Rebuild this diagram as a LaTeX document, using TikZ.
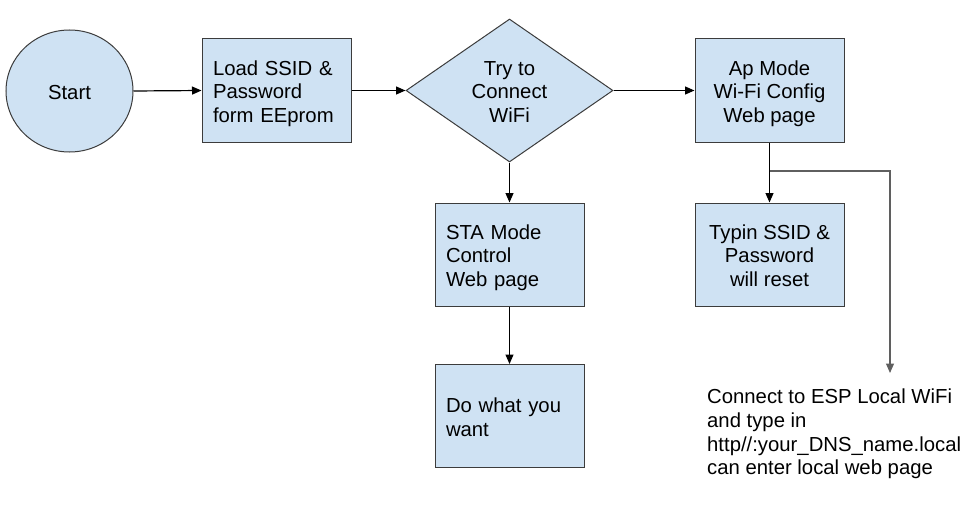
\documentclass[tikz,border=0pt]{standalone}
\usepackage{fontspec}
\setmainfont{Liberation Sans}
\usetikzlibrary{shapes.geometric,arrows.meta}
\definecolor{boxfill}{HTML}{CFE2F3}
\definecolor{boxdraw}{HTML}{3C3C3C}
\definecolor{linegray}{HTML}{5F5F5F}
\newcommand{\topS}{\rule{0pt}{21pt}}
\newcommand{\botS}{\rule[-4.3pt]{0pt}{4.3pt}}
\begin{document}
\begin{tikzpicture}[x=1pt,y=-1pt,
  every node/.style={font=\fontsize{20.3}{23.8}\selectfont},
  shapebase/.style={draw=boxdraw, fill=boxfill, line width=1pt, inner sep=0pt},
  box/.style={shapebase, minimum width=149pt, minimum height=103pt, align=center},
  lbox/.style={box, text width=127pt, align=left},
  conn/.style={line width=1.2pt, -{Triangle[length=9.5pt,width=8pt]}},
  gconn/.style={line width=1.1pt, draw=linegray, -{Triangle[length=9.5pt,width=8pt]}, color=linegray},
]
\useasboundingbox (0,0) rectangle (969,511);
\node[ellipse, shapebase, minimum width=127pt, minimum height=122pt] (start) at (69.5,91) {\topS Start\botS};
\node[lbox] (load) at (276.5,90.5) {\topS Load SSID \&\\Password\\form EEprom\botS};
\node[diamond, shapebase, aspect=1.45, minimum width=207pt, minimum height=143pt, align=center] (try) at (509.5,90.5) {\topS Try to\\Connect\\WiFi\botS};
\node[box] (ap) at (769.5,90.5) {\topS Ap Mode\\Wi-Fi Config\\Web page\botS};
\node[box] (typ) at (769.5,254.5) {\topS Typin SSID \&\\Password\\will reset\botS};
\node[lbox] (sta) at (509.5,254.5) {\topS STA Mode\\Control\\Web page\botS};
\node[lbox] (do) at (509.5,416) {\topS Do what you\\want\botS};
\node[anchor=west, align=left, inner sep=0pt] (note) at (707,434) {Connect to ESP Local WiFi\\and type in\\http//:your\_DNS\_name.local\\can enter local web page};
\coordinate (br) at (769.5,171);
\coordinate (ne) at (890,373);
\draw[conn] (start.east) -- (load.west);
\draw[conn] (load.east) -- (try.west);
\draw[conn] (try.east) -- (ap.west);
\draw[conn] (try.south) -- (sta.north);
\draw[conn] (sta.south) -- (do.north);
\draw[conn] (ap.south) -- (typ.north);
\draw[gconn] (br) -| (ne);
\end{tikzpicture}
\end{document}
